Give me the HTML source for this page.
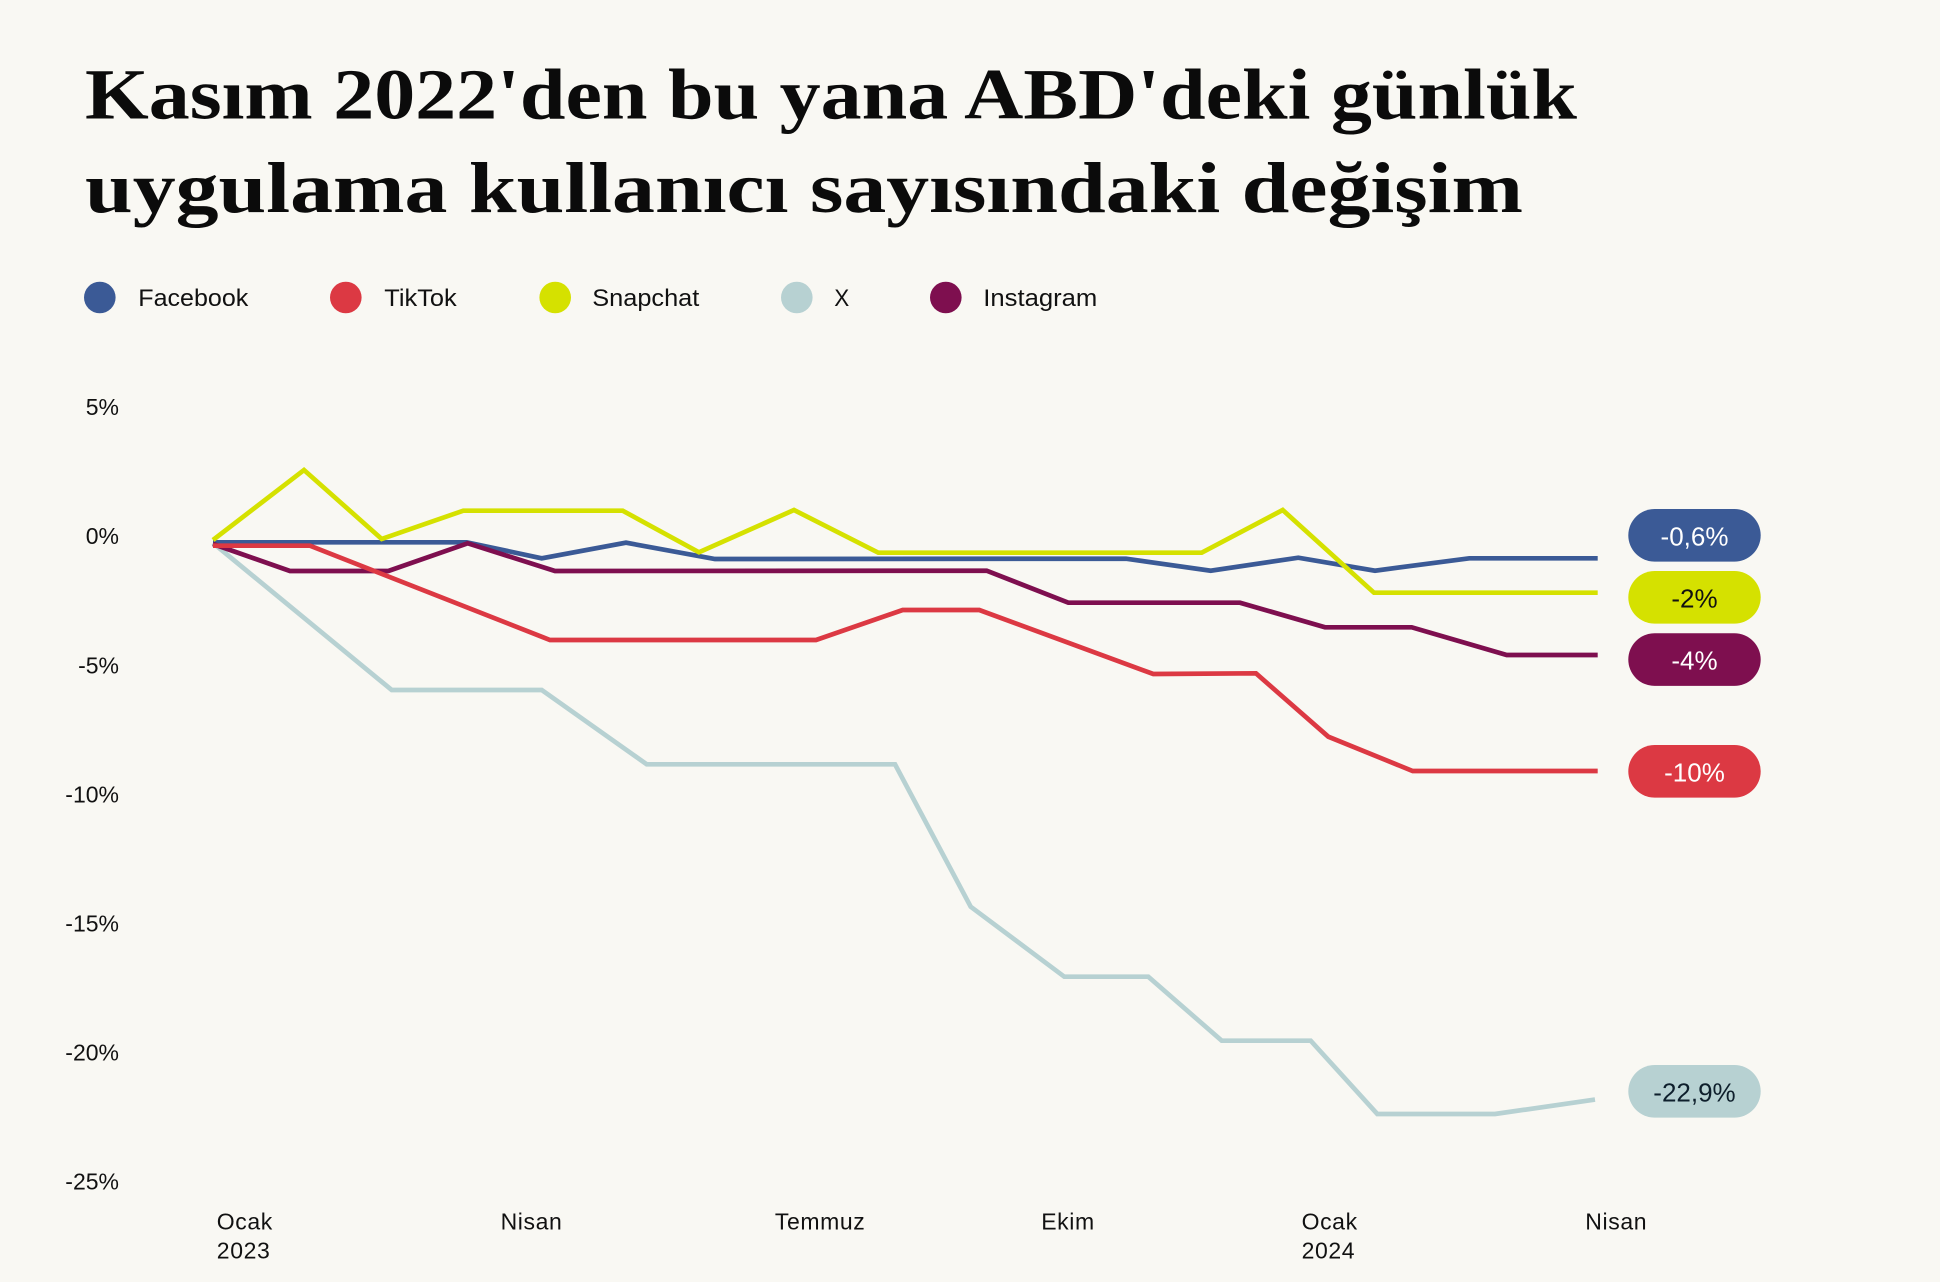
<!DOCTYPE html>
<html>
<head>
<meta charset="utf-8">
<style>
  html, body { margin: 0; padding: 0; background: #f9f8f3; }
  svg { display: block; }
  .sans { font-family: "Liberation Sans", "DejaVu Sans", sans-serif; }
  .serif { font-family: "Liberation Serif", "DejaVu Serif", serif; }
</style>
</head>
<body>
<svg width="1940" height="1282" viewBox="0 0 1940 1282" xmlns="http://www.w3.org/2000/svg">
  <rect x="0" y="0" width="1940" height="1282" fill="#f9f8f3"/>

  <!-- Title -->
  <text class="serif" x="85" y="118.5" font-size="72" font-weight="bold" fill="#0b0b0b" textLength="1492" lengthAdjust="spacingAndGlyphs">Kasım 2022'den bu yana ABD'deki günlük</text>
  <text class="serif" x="85" y="212" font-size="72" font-weight="bold" fill="#0b0b0b" textLength="1438" lengthAdjust="spacingAndGlyphs">uygulama kullanıcı sayısındaki değişim</text>

  <!-- Legend -->
  <g class="sans" font-size="24" fill="#111">
    <circle cx="99.8" cy="297.5" r="15.8" fill="#3b5a96"/>
    <text x="138.3" y="306" textLength="110" lengthAdjust="spacingAndGlyphs">Facebook</text>
    <circle cx="345.8" cy="297.5" r="15.8" fill="#dc3943"/>
    <text x="384.3" y="306" textLength="72.4" lengthAdjust="spacingAndGlyphs">TikTok</text>
    <circle cx="555.2" cy="297.5" r="15.8" fill="#d5e100"/>
    <text x="592.3" y="306" textLength="107" lengthAdjust="spacingAndGlyphs">Snapchat</text>
    <circle cx="796.8" cy="297.5" r="15.8" fill="#b7d1d2"/>
    <text x="834.3" y="306" textLength="15" lengthAdjust="spacingAndGlyphs">X</text>
    <circle cx="945.8" cy="297.5" r="15.8" fill="#7e0f4f"/>
    <text x="983.3" y="306" textLength="114" lengthAdjust="spacingAndGlyphs">Instagram</text>
  </g>

  <!-- Y axis labels -->
  <g class="sans" font-size="23" fill="#111" text-anchor="end">
    <text x="119" y="415">5%</text>
    <text x="119" y="544">0%</text>
    <text x="119" y="673.3">-5%</text>
    <text x="119" y="802.3">-10%</text>
    <text x="119" y="931.3">-15%</text>
    <text x="119" y="1060.3">-20%</text>
    <text x="119" y="1189.3">-25%</text>
  </g>

  <!-- X axis labels -->
  <g class="sans" font-size="23" fill="#111" letter-spacing="0.6">
    <text x="216.8" y="1229.3">Ocak</text>
    <text x="216.8" y="1258.3">2023</text>
    <text x="500.6" y="1229.3">Nisan</text>
    <text x="774.9" y="1229.3">Temmuz</text>
    <text x="1041.2" y="1229.3">Ekim</text>
    <text x="1301.6" y="1229.3">Ocak</text>
    <text x="1301.6" y="1258.3">2024</text>
    <text x="1585.3" y="1229.3">Nisan</text>
  </g>

  <!-- Series -->
  <g fill="none" stroke-width="4.7" stroke-linejoin="miter" stroke-linecap="butt">
    <!-- X -->
    <polyline stroke="#b7d1d2" points="213,543 391.7,690 541.7,690 646.7,764.3 895,764.3 970.7,906.7 1064.3,976.7 1148.3,976.7 1221.7,1040.7 1310.7,1040.7 1377.3,1114 1495,1114 1595,1099.6"/>
    <!-- Facebook -->
    <polyline stroke="#3b5a96" points="213,542.3 466.7,542.3 541.7,558.3 626,542.7 715,559 1126,558.7 1210.7,570.7 1298.3,557.7 1375,570.7 1469.3,558.3 1597.7,558.3"/>
    <!-- Snapchat -->
    <polyline stroke="#d5e100" points="213,540 304,470 381.7,539 463.3,510.7 622.7,510.7 699,552.3 794,510 878.3,552.7 1201.7,552.7 1282.7,510 1374,592.7 1597.7,592.7"/>
    <!-- Instagram -->
    <polyline stroke="#7e0f4f" points="213,544 290,571 388.3,571 467.7,543.3 555,571 986.7,570.7 1068.3,602.7 1240,602.7 1325,627.3 1411.7,627.3 1506.7,655 1597.7,655"/>
    <!-- TikTok -->
    <polyline stroke="#dc3943" points="213,545.7 310,545.7 550,640 816,640 902.7,610 979.3,610 1153.3,674 1256,673.3 1328.3,736.7 1412.7,771 1597.7,771"/>
  </g>

  <!-- End labels (pills) -->
  <g class="sans" font-size="26" text-anchor="middle">
    <rect x="1628.3" y="509" width="132.4" height="52.6" rx="26.3" fill="#3b5a96"/>
    <text x="1694.5" y="545.5" fill="#ffffff">-0,6%</text>

    <rect x="1628.3" y="571" width="132.4" height="52.6" rx="26.3" fill="#d5e100"/>
    <text x="1694.5" y="607.3" fill="#111111">-2%</text>

    <rect x="1628.3" y="633.3" width="132.4" height="52.6" rx="26.3" fill="#7e0f4f"/>
    <text x="1694.5" y="669.6" fill="#ffffff">-4%</text>

    <rect x="1628.3" y="745" width="132.4" height="52.6" rx="26.3" fill="#dc3943"/>
    <text x="1694.5" y="781.3" fill="#ffffff">-10%</text>

    <rect x="1628.3" y="1065" width="132.4" height="52.6" rx="26.3" fill="#b7d1d2"/>
    <text x="1694.5" y="1101.5" fill="#0e1f2c">-22,9%</text>
  </g>
</svg>
</body>
</html>
